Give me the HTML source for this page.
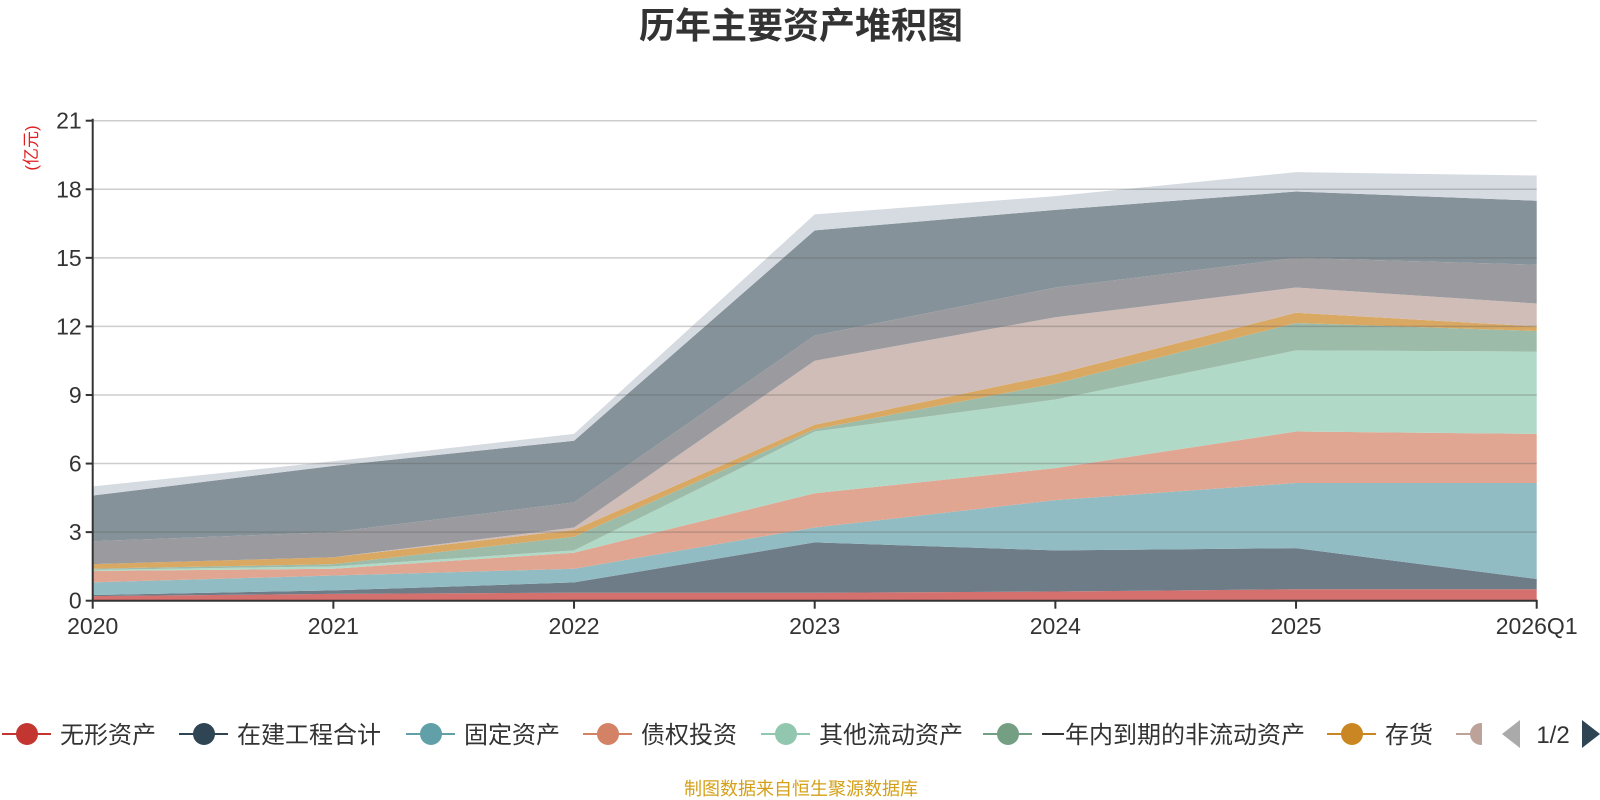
<!DOCTYPE html>
<html><head><meta charset="utf-8">
<style>
html,body{margin:0;padding:0;background:#fff;}
svg{display:block;font-family:"Liberation Sans","Noto Sans CJK SC",sans-serif;}
</style></head>
<body>
<svg id="chart" width="1600" height="800" viewBox="0 0 1600 800">
<text x="801" y="38" text-anchor="middle" font-size="36" font-weight="bold" fill="#333">历年主要资产堆积图</text>
<text transform="translate(37,148) rotate(-90)" text-anchor="middle" font-size="17" fill="#e02020">(亿元)</text>
<g id="areas"></g>
<g id="grid"></g>
<g id="axes"></g>
<g id="legend"></g>
<text x="801" y="795" text-anchor="middle" font-size="18" fill="#d4a017">制图数据来自恒生聚源数据库</text>
</svg>
<script>
const categories = ["2020","2021","2022","2023","2024","2025","2026Q1"];
const yTicks = [0,3,6,9,12,15,18,21];
const seriesNames = ["无形资产","在建工程合计","固定资产","债权投资","其他流动资产","一年内到期的非流动资产","存货","应收账款","交易性金融资产","货币资金","其他"];
const s1 = [0.2,0.3,0.35,0.35,0.4,0.5,0.5];
const s2 = [0.05,0.15,0.45,2.2,1.8,1.8,0.45];
const s3 = [0.55,0.65,0.6,0.65,2.2,2.85,4.2];
const s4 = [0.5,0.3,0.7,1.5,1.4,2.25,2.15];
const s5 = [0.05,0.1,0.1,2.7,3.0,3.55,3.6];
const s6 = [0.05,0.1,0.6,0.1,0.7,1.2,0.9];
const s7 = [0.2,0.3,0.3,0.2,0.4,0.45,0.2];
const s8 = [0,0,0.1,2.8,2.5,1.1,1.0];
const s9 = [1.0,1.1,1.1,1.1,1.3,1.3,1.7];
const s10 = [2.0,2.9,2.7,4.6,3.4,2.9,2.8];
const s11 = [0.4,0.2,0.3,0.7,0.6,0.85,1.1];
const seriesValues = [s1,s2,s3,s4,s5,s6,s7,s8,s9,s10,s11];
const fills = ["#d4706d","#6e7c87","#91bcc3","#e0a692","#b1d9c7","#9dbba9","#d9a862","#d0bdb7","#9b9b9f","#859299","#d6dbe1"];
const legendColors = ["#c23531","#2f4554","#61a0a8","#d48265","#91c7ae","#749f83","#ca8622","#bda29a"];

const NS="http://www.w3.org/2000/svg";
const X0=92.7, X1=1536.7, Y0=600.7, Y1=120.7, YMAX=21;
function xPos(i){return X0+(X1-X0)*i/(categories.length-1);}
function yPos(v){return Y0-(Y0-Y1)*v/YMAX;}
function mk(tag,attrs,parent){const e=document.createElementNS(NS,tag);for(const k in attrs)e.setAttribute(k,attrs[k]);parent.appendChild(e);return e;}

const areas=document.getElementById('areas');
let base=categories.map(()=>0);
seriesValues.forEach((vals,si)=>{
  const top=base.map((b,i)=>b+vals[i]);
  let d="M"+categories.map((c,i)=>xPos(i)+","+yPos(top[i])).join(" L");
  for(let i=categories.length-1;i>=0;i--) d+=" L"+xPos(i)+","+yPos(base[i]);
  d+=" Z";
  const p=mk('path',{d:d,fill:fills[si],stroke:'none'},areas);
  
  
  base=top;
});

const grid=document.getElementById('grid');
yTicks.forEach(t=>{
  if(t===0)return;
  const l=mk('line',{x1:X0,x2:X1,y1:yPos(t),y2:yPos(t),stroke:'rgba(90,90,90,0.3)','stroke-width':1.5},grid);
  
  
});

const axes=document.getElementById('axes');
mk('line',{x1:X0,x2:X0,y1:Y1-2,y2:Y0,stroke:'#333','stroke-width':2},axes);
mk('line',{x1:X0,x2:X1+1,y1:Y0,y2:Y0,stroke:'#333','stroke-width':2},axes);
yTicks.forEach(t=>{
  mk('line',{x1:X0-7,x2:X0,y1:yPos(t),y2:yPos(t),stroke:'#333','stroke-width':2},axes);
  const tx=mk('text',{x:X0-11,y:yPos(t)+8,'text-anchor':'end','font-size':23,fill:'#333'},axes);
  tx.textContent=t;
  
  
});
categories.forEach((c,i)=>{
  mk('line',{x1:xPos(i),x2:xPos(i),y1:Y0,y2:Y0+8,stroke:'#333','stroke-width':2},axes);
  const tx=mk('text',{x:xPos(i),y:634,'text-anchor':'middle','font-size':23,fill:'#333'},axes);
  tx.textContent=c;
  
  
});

const legend=document.getElementById('legend');
const lx=[2,179,406,583,761,983,1327,1456];
const LY=734;
lx.forEach((x,i)=>{
  const g=mk('g',{},legend);
  
  
  mk('line',{x1:x,x2:x+49,y1:LY,y2:LY,stroke:legendColors[i],'stroke-width':2},g);
  mk('circle',{cx:x+25,cy:LY,r:11,fill:legendColors[i]},g);
  const t=mk('text',{x:x+58,y:LY+9,'font-size':24,fill:'#333'},g);
  t.textContent=seriesNames[i];
});
mk('rect',{x:1482,y:700,width:118,height:70,fill:'#fff'},legend);
const pl=mk('polygon',{points:'1502,734 1520,720 1520,748',fill:'#aaa'},legend);


const pg=mk('text',{x:1553,y:743,'text-anchor':'middle','font-size':24,fill:'#333'},legend);
pg.textContent='1/2';


const pn=mk('polygon',{points:'1600,734 1582,720 1582,748',fill:'#2f4554'},legend);


</script>
</body></html>
